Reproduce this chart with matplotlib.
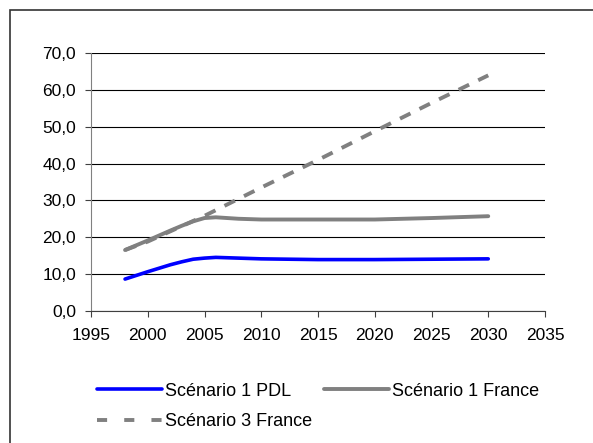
import matplotlib.pyplot as plt
from matplotlib.lines import Line2D
from matplotlib.patches import Rectangle
from matplotlib.ticker import FuncFormatter

plt.rcParams['font.family'] = ['Liberation Sans', 'DejaVu Sans']

# ===== DATA =====
years = [1998, 2000, 2002, 2003, 2004, 2005, 2006, 2008, 2010, 2015, 2020, 2025, 2030]
pdl_s1 = [8.6, 10.6, 12.5, 13.3, 14.0, 14.3, 14.5, 14.3, 14.1, 13.9, 13.9, 14.0, 14.1]
france_s1 = [16.5, 19.1, 21.8, 23.1, 24.3, 25.2, 25.4, 25.0, 24.8, 24.8, 24.8, 25.2, 25.7]
years_s3 = [1998, 2000, 2003, 2005, 2010, 2015, 2020, 2025, 2030]
france_s3 = [16.5, 18.8, 23.0, 25.8, 33.5, 41.0, 48.8, 56.5, 64.0]

labels = ["Scénario 1 PDL", "Scénario 1 France", "Scénario 3 France"]

# ===== FIGURE =====
fig = plt.figure(figsize=(5.93, 4.43), dpi=100)
fig.patches.append(Rectangle((10 / 593, -0.1), 1.2, 1 - 10 / 443 + 0.1,
                             transform=fig.transFigure, fill=False,
                             edgecolor="#333333", linewidth=1.2))

ax = fig.add_axes([91 / 593, 1 - 310.7 / 443, 454 / 593, 257.4 / 443])

l1, = ax.plot(years, pdl_s1, color="#0000ff", linewidth=2.6, solid_capstyle="round")
l2, = ax.plot(years, france_s1, color="#808080", linewidth=2.8, solid_capstyle="round")
l3, = ax.plot(years_s3, france_s3, color="#808080", linewidth=2.8,
              linestyle=(0, (3, 2.6)))

ax.set_xlim(1995, 2035)
ax.set_ylim(0, 70)
ax.set_xticks(range(1995, 2036, 5))
ax.set_yticks(range(0, 71, 10))
ax.yaxis.set_major_formatter(FuncFormatter(lambda v, p: f"{v:.1f}".replace(".", ",")))
ax.grid(axis="y", color="black", linewidth=0.8)
ax.set_axisbelow(True)

for s in ["top", "right"]:
    ax.spines[s].set_visible(False)
ax.spines["left"].set_color("#808080")
ax.spines["bottom"].set_color("#404040")
ax.tick_params(axis="both", labelsize=12.5, direction="out", length=4.3, colors="#404040",
               labelcolor="black")
ax.tick_params(axis="x", pad=8)
ax.tick_params(axis="y", pad=6.5)

# legend handle for the dashed series (wider gaps, like the original legend)
h3 = Line2D([], [], color="#808080", linewidth=2.8, linestyle=(0, (2.6, 4.4)))

# row 1 = PDL, France S1 ; row 2 = S3 France (column-wise fill)
fig.legend([l1, h3, l2], [labels[0], labels[2], labels[1]], loc="upper left",
           bbox_to_anchor=(97 / 593, 1 - 382.5 / 443), ncol=2, frameon=False,
           fontsize=13, handlelength=3.6, handletextpad=0.17, columnspacing=0.67,
           labelspacing=0.77, borderpad=0, borderaxespad=0)

# ===== SAVE IMAGE =====
plt.savefig("out.png", dpi=100)
plt.close()
